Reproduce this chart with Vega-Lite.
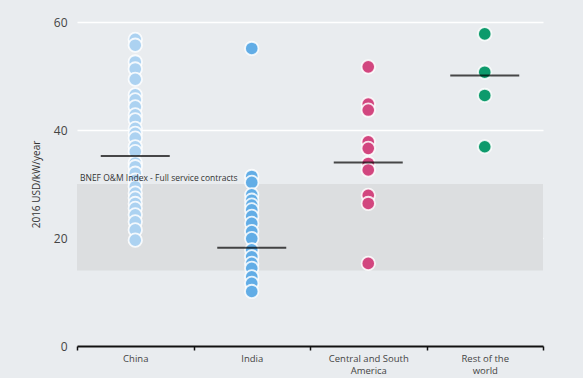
{
  "$schema": "https://vega.github.io/schema/vega-lite/v6.json",
  "width": 466,
  "height": 324,
  "autosize": {"type": "none"},
  "padding": {"left": 77, "top": 22, "right": 40, "bottom": 32},
  "background": "#e9ecef",
  "config": {
    "view": {"stroke": null},
    "font": "Open Sans"
  },
  "datasets": {
    "pts": [
      {"region": "China", "value": 56.8}, {"region": "China", "value": 55.7}, {"region": "China", "value": 52.6},
      {"region": "China", "value": 51.3}, {"region": "China", "value": 49.4}, {"region": "China", "value": 46.5},
      {"region": "China", "value": 45.6}, {"region": "China", "value": 44.3}, {"region": "China", "value": 42.8},
      {"region": "China", "value": 41.9}, {"region": "China", "value": 40.3}, {"region": "China", "value": 39.4},
      {"region": "China", "value": 38.5}, {"region": "China", "value": 36.9}, {"region": "China", "value": 36.0},
      {"region": "China", "value": 33.9}, {"region": "China", "value": 33.2}, {"region": "China", "value": 32.0},
      {"region": "China", "value": 30.7}, {"region": "China", "value": 29.5}, {"region": "China", "value": 28.3},
      {"region": "China", "value": 27.4}, {"region": "China", "value": 26.4}, {"region": "China", "value": 25.5},
      {"region": "China", "value": 24.3}, {"region": "China", "value": 23.0}, {"region": "China", "value": 21.5},
      {"region": "China", "value": 19.6},
      {"region": "India", "value": 55.1}, {"region": "India", "value": 31.4}, {"region": "India", "value": 30.3},
      {"region": "India", "value": 28.0}, {"region": "India", "value": 27.0}, {"region": "India", "value": 26.1},
      {"region": "India", "value": 25.2}, {"region": "India", "value": 24.0}, {"region": "India", "value": 22.7},
      {"region": "India", "value": 21.2}, {"region": "India", "value": 19.9}, {"region": "India", "value": 17.8},
      {"region": "India", "value": 16.5}, {"region": "India", "value": 15.3}, {"region": "India", "value": 14.4},
      {"region": "India", "value": 12.8}, {"region": "India", "value": 11.6}, {"region": "India", "value": 10.1},
      {"region": "Central and South America", "value": 51.7}, {"region": "Central and South America", "value": 44.8},
      {"region": "Central and South America", "value": 43.7}, {"region": "Central and South America", "value": 37.8},
      {"region": "Central and South America", "value": 36.6}, {"region": "Central and South America", "value": 33.8},
      {"region": "Central and South America", "value": 32.6}, {"region": "Central and South America", "value": 27.9},
      {"region": "Central and South America", "value": 26.4}, {"region": "Central and South America", "value": 15.3},
      {"region": "Rest of the world", "value": 57.8}, {"region": "Rest of the world", "value": 50.7},
      {"region": "Rest of the world", "value": 46.4}, {"region": "Rest of the world", "value": 36.9}
    ],
    "means": [
      {"region": "China", "value": 35.2},
      {"region": "India", "value": 18.2},
      {"region": "Central and South America", "value": 34.0},
      {"region": "Rest of the world", "value": 50.1}
    ],
    "band": [
      {"low": 14, "high": 30, "region": "China", "label": "BNEF O&M Index - Full service contracts", "labelY": 30}
    ]
  },
  "layer": [
    {
      "data": {"name": "band"},
      "mark": {"type": "rect", "color": "#dcdee0"},
      "encoding": {
        "y": {"field": "low", "type": "quantitative", "scale": {"domain": [0, 60]}},
        "y2": {"field": "high"}
      }
    },
    {
      "data": {"name": "pts"},
      "mark": {"type": "point", "filled": true, "shape": "circle", "size": 180, "stroke": "white", "strokeWidth": 1.8, "opacity": 1, "strokeOpacity": 0.85},
      "encoding": {
        "x": {
          "field": "region", "type": "nominal",
          "sort": ["China", "India", "Central and South America", "Rest of the world"],
          "scale": {"paddingInner": 0, "paddingOuter": 0},
          "axis": {
            "title": null, "labelAngle": 0, "domainColor": "#111111", "domainWidth": 2,
            "tickColor": "#111111", "tickSize": 4, "tickWidth": 1.5, "tickBand": "extent",
            "labelFontSize": 9.5, "labelColor": "#444444", "labelPadding": 3, "labelLineHeight": 12.5, "labelBaseline": "top",
            "labelExpr": "datum.value == 'Central and South America' ? ['Central and South', 'America'] : datum.value == 'Rest of the world' ? ['Rest of the', 'world'] : datum.value"
          }
        },
        "y": {
          "field": "value", "type": "quantitative",
          "scale": {"domain": [0, 60]},
          "axis": {
            "title": "2016 USD/kW/year", "titleFontSize": 10, "titleFontWeight": "normal", "titleColor": "#333333", "titlePadding": 12,
            "values": [0, 20, 40, 60], "domain": false, "ticks": false,
            "gridColor": "white", "gridWidth": 1.5, "labelFontSize": 12, "labelColor": "#444444", "labelPadding": 10
          }
        },
        "color": {
          "field": "region", "type": "nominal", "legend": null,
          "scale": {
            "domain": ["China", "India", "Central and South America", "Rest of the world"],
            "range": ["#acd2f1", "#62ade6", "#d2467f", "#0d9a6c"]
          }
        }
      }
    },
    {
      "data": {"name": "means"},
      "mark": {"type": "tick", "color": "#000000", "size": 69, "thickness": 2},
      "encoding": {
        "x": {"field": "region", "type": "nominal", "sort": ["China", "India", "Central and South America", "Rest of the world"]},
        "y": {"field": "value", "type": "quantitative"}
      }
    },
    {
      "data": {"name": "band"},
      "mark": {"type": "text", "align": "left", "baseline": "bottom", "dx": 3, "dy": -1, "fontSize": 8.5, "color": "#333333"},
      "encoding": {
        "x": {"field": "region", "type": "nominal", "bandPosition": 0, "sort": ["China", "India", "Central and South America", "Rest of the world"]},
        "y": {"field": "labelY", "type": "quantitative"},
        "text": {"field": "label"}
      }
    }
  ]
}
